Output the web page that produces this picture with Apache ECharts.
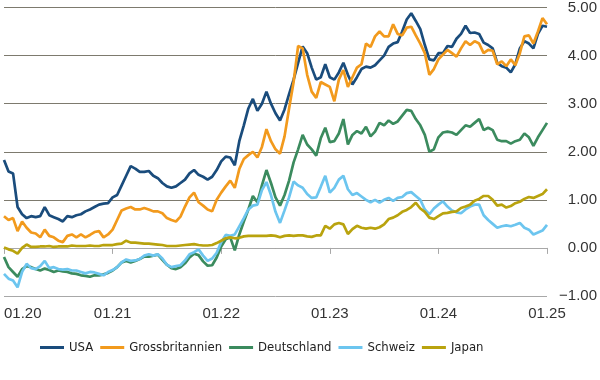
<!DOCTYPE html>
<html><head><meta charset="utf-8">
<script src="https://cdn.jsdelivr.net/npm/echarts@6/dist/echarts.min.js"></script>
<style>html,body{margin:0;padding:0;background:#fff}#c{width:600px;height:380px}</style>
</head><body><div id="c"></div>
<script>
const tickLabels = ['01.20','01.21','01.22','01.23','01.24','01.25'];
const seriesNames = ['USA','Grossbritannien','Deutschland','Schweiz','Japan'];
const seriesColors = ['#1a4c7c','#f29a1d','#3b8b5e','#6cc5ef','#b9a30e'];
const stepsPerYear = 24; // half-monthly observations

const usa = [1.83,1.59,1.55,0.85,0.70,0.62,0.66,0.64,0.66,0.85,
0.68,0.64,0.60,0.55,0.66,0.64,0.68,0.70,0.76,0.80,
0.85,0.90,0.92,0.93,1.05,1.10,1.30,1.50,1.70,1.65,
1.58,1.58,1.60,1.50,1.45,1.35,1.28,1.25,1.28,1.35,
1.42,1.55,1.62,1.52,1.48,1.42,1.48,1.62,1.80,1.90,
1.88,1.72,2.22,2.55,2.90,3.10,2.85,3.00,3.25,3.00,
2.80,2.65,2.88,3.20,3.50,3.85,4.19,4.05,3.75,3.50,
3.55,3.82,3.55,3.50,3.65,3.85,3.60,3.40,3.55,3.72,
3.77,3.75,3.80,3.90,4.00,4.18,4.25,4.28,4.50,4.75,
4.88,4.72,4.55,4.22,3.92,3.90,4.05,4.05,4.20,4.18,
4.35,4.45,4.62,4.47,4.48,4.45,4.27,4.22,4.15,3.85,
3.78,3.75,3.65,3.82,4.15,4.30,4.25,4.15,4.45,4.62,
4.60];
const gb = [0.66,0.58,0.62,0.35,0.55,0.42,0.32,0.30,0.22,0.38,
0.25,0.22,0.15,0.12,0.25,0.28,0.22,0.28,0.22,0.27,
0.33,0.35,0.22,0.28,0.38,0.58,0.78,0.82,0.85,0.80,
0.80,0.83,0.80,0.76,0.76,0.72,0.62,0.58,0.55,0.65,
0.86,1.05,1.15,0.95,0.88,0.80,0.76,1.00,1.15,1.28,
1.40,1.25,1.64,1.85,1.93,2.00,1.88,2.10,2.47,2.22,
2.05,1.96,2.32,2.90,3.45,4.20,4.15,3.60,3.25,3.12,
3.45,3.40,3.35,3.05,3.50,3.70,3.35,3.55,3.75,3.82,
4.25,4.18,4.40,4.50,4.40,4.40,4.65,4.45,4.42,4.58,
4.60,4.42,4.25,4.05,3.60,3.72,3.92,4.02,4.12,4.05,
3.98,4.15,4.30,4.22,4.30,4.25,4.05,4.12,4.10,3.82,
3.88,3.78,3.92,3.80,4.05,4.40,4.42,4.25,4.50,4.78,
4.65];
const de = [-0.19,-0.40,-0.50,-0.60,-0.44,-0.38,-0.40,-0.44,-0.47,-0.43,
-0.46,-0.50,-0.47,-0.49,-0.50,-0.53,-0.54,-0.57,-0.58,-0.60,
-0.57,-0.57,-0.55,-0.52,-0.47,-0.40,-0.30,-0.27,-0.30,-0.27,
-0.23,-0.18,-0.18,-0.16,-0.14,-0.25,-0.35,-0.42,-0.44,-0.40,
-0.32,-0.20,-0.12,-0.15,-0.28,-0.37,-0.36,-0.20,0.03,0.18,
0.22,-0.05,0.28,0.55,0.80,1.08,0.95,1.30,1.62,1.35,
1.05,0.88,1.10,1.40,1.78,2.05,2.35,2.15,2.05,1.92,
2.28,2.50,2.20,2.22,2.38,2.68,2.15,2.35,2.43,2.38,
2.52,2.32,2.42,2.60,2.55,2.65,2.58,2.63,2.75,2.87,
2.85,2.68,2.55,2.35,2.00,2.05,2.30,2.40,2.42,2.40,
2.35,2.45,2.55,2.52,2.60,2.68,2.45,2.50,2.45,2.25,
2.22,2.22,2.17,2.22,2.25,2.38,2.30,2.12,2.30,2.45,
2.60];
const ch = [-0.54,-0.64,-0.68,-0.82,-0.50,-0.33,-0.42,-0.44,-0.38,-0.27,
-0.42,-0.40,-0.44,-0.45,-0.44,-0.47,-0.47,-0.50,-0.53,-0.50,
-0.51,-0.54,-0.57,-0.50,-0.46,-0.40,-0.30,-0.24,-0.27,-0.26,
-0.23,-0.16,-0.13,-0.16,-0.13,-0.22,-0.35,-0.40,-0.38,-0.36,
-0.26,-0.13,-0.09,-0.03,-0.16,-0.27,-0.22,-0.10,0.12,0.27,
0.25,0.28,0.45,0.62,0.80,0.88,0.90,1.20,1.37,1.10,
0.75,0.52,0.78,1.05,1.38,1.30,1.25,1.12,1.04,1.05,
1.27,1.50,1.15,1.25,1.42,1.50,1.22,1.10,1.14,1.07,
1.00,0.95,1.00,0.94,1.00,1.04,0.98,1.04,1.06,1.14,
1.16,1.08,1.00,0.80,0.70,0.82,0.90,0.97,0.86,0.78,
0.74,0.72,0.80,0.86,0.90,0.90,0.68,0.58,0.50,0.42,
0.45,0.47,0.45,0.48,0.52,0.42,0.38,0.28,0.32,0.36,
0.48];
const jp = [0.01,-0.03,-0.06,-0.12,0.00,0.07,0.02,0.02,0.03,0.03,
0.04,0.02,0.03,0.03,0.03,0.05,0.04,0.04,0.04,0.05,
0.04,0.04,0.06,0.06,0.06,0.08,0.09,0.15,0.11,0.11,
0.10,0.09,0.09,0.08,0.07,0.06,0.04,0.04,0.04,0.05,
0.06,0.07,0.08,0.06,0.05,0.05,0.06,0.10,0.15,0.20,
0.22,0.20,0.21,0.24,0.25,0.25,0.25,0.25,0.25,0.26,
0.25,0.22,0.25,0.26,0.25,0.26,0.26,0.24,0.23,0.26,
0.26,0.46,0.40,0.49,0.52,0.49,0.29,0.39,0.46,0.42,
0.40,0.42,0.40,0.43,0.49,0.60,0.63,0.68,0.75,0.79,
0.85,0.94,0.82,0.75,0.63,0.60,0.66,0.72,0.73,0.75,
0.76,0.83,0.86,0.90,0.98,1.02,1.08,1.08,1.00,0.88,
0.90,0.84,0.87,0.93,0.96,1.02,1.06,1.04,1.08,1.12,
1.22];

const seriesData = [usa, gb, de, ch, jp];

// category keys: one per half-month, Jan 2020 .. Jan 2025
const categories = [];
for (let y = 0; y < tickLabels.length; y++) {
  const n = (y === tickLabels.length - 1) ? 1 : stepsPerYear;
  for (let s = 0; s < n; s++) categories.push(tickLabels[y] + '/' + s);
}

const chart = echarts.init(document.getElementById('c'), null, {renderer: 'canvas'});
const gridColor = '#7d7a6e';
chart.setOption({
  animation: false,
  backgroundColor: '#ffffff',
  grid: {left: 4, right: 52, top: 7, bottom: 84, containLabel: false},
  legend: {
    data: seriesNames,
    left: 40, top: 341,
    icon: 'rect', itemWidth: 24, itemHeight: 3, itemGap: 7,
    padding: 0,
    textStyle: {fontFamily: "'DejaVu Sans Condensed','Liberation Sans',sans-serif", fontSize: 13, color: '#222'}
  },
  xAxis: {
    type: 'category', data: categories, boundaryGap: false,
    axisLine: {lineStyle: {color: '#a8a8a8', width: 1}},
    axisTick: {interval: (i) => i % stepsPerYear === 0, length: 6, lineStyle: {color: '#a8a8a8'}},
    axisLabel: {
      interval: (i) => i % stepsPerYear === 0,
      formatter: (v) => v.split('/')[0],
      alignMinLabel: 'left',
      margin: 10,
      fontFamily: "'Liberation Sans',Arial,sans-serif", fontSize: 15, color: '#333'
    },
    splitLine: {show: false}
  },
  yAxis: {
    type: 'value', position: 'right', min: -1, max: 5, interval: 1,
    axisLine: {show: false}, axisTick: {show: false},
    axisLabel: {
      formatter: (v) => (v < 0 ? '\u2212' : '') + Math.abs(v).toFixed(2),
      align: 'right', margin: 50,
      fontFamily: "'Liberation Sans',Arial,sans-serif", fontSize: 15, color: '#333'
    },
    splitLine: {lineStyle: {color: ['#a8a8a8', gridColor, gridColor, gridColor, gridColor, gridColor, gridColor], width: 1}}
  },
  series: seriesNames.map((name, k) => ({
    name: name, type: 'line', data: seriesData[k],
    symbol: 'none', showSymbol: false,
    lineStyle: {width: 2.7, color: seriesColors[k]},
    itemStyle: {color: seriesColors[k]}
  }))
});
</script></body></html>
